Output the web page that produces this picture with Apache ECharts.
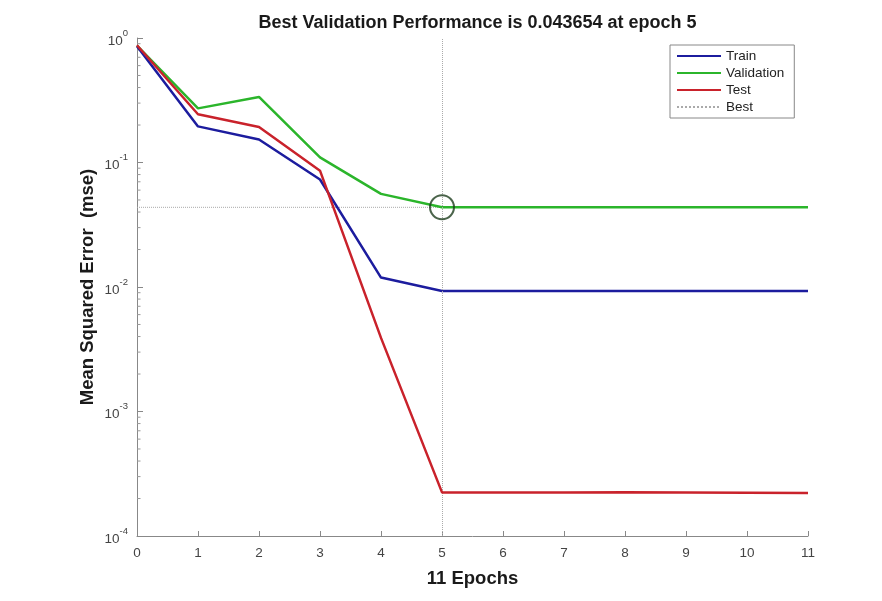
<!DOCTYPE html>
<html><head><meta charset="utf-8">
<script src="https://cdn.jsdelivr.net/npm/echarts@6/dist/echarts.min.js"></script>
<style>html,body{margin:0;padding:0;background:#fff}#c{width:882px;height:601px}</style>
</head><body><div id="c"></div>
<script>
const epochs = [0,1,2,3,4,5,6,7,8,9,10,11];
const train = [0.86,0.195,0.153,0.073,0.0119,0.0093,0.0093,0.0093,0.0093,0.0093,0.0093,0.0093];
const validation = [0.87,0.272,0.336,0.11,0.056,0.043654,0.043654,0.043654,0.043654,0.043654,0.043654,0.043654];
const test = [0.875,0.244,0.193,0.086,0.0039,0.000224,0.000224,0.000224,0.000225,0.000224,0.000223,0.000222];
const bestEpoch = 5;
const bestValue = 0.043654;
const minorTickValues = [];
[-4,-3,-2,-1].forEach(k => { [2,3,4,5,6,7,8,9].forEach(m => minorTickValues.push(m*Math.pow(10,k))); });

const font = 'Liberation Sans, Arial, Helvetica, sans-serif';
const chart = echarts.init(document.getElementById('c'), null, {renderer:'canvas'});
const pair = arr => epochs.map((e,i)=>[e,arr[i]]);

chart.setOption({
  backgroundColor:'#fff',
  animation:false,
  title:{
    text:'Best Validation Performance is 0.043654 at epoch 5',
    left:472.5, textAlign:'center', top:9,
    textStyle:{fontFamily:font, fontSize:18, fontWeight:'bold', color:'#1a1a1a'}
  },
  legend:{
    orient:'vertical', left:670, top:45,
    data:['Train','Validation','Test','Best'],
    itemWidth:44, itemHeight:12, itemGap:3,
    padding:[4,10,4,6],
    borderColor:'#888', borderWidth:1, backgroundColor:'#fff',
    itemStyle:{opacity:0},
    textStyle:{fontFamily:font, fontSize:13.5, color:'#222'}
  },
  grid:{left:137, right:74, top:38, bottom:65},
  xAxis:{
    type:'value', min:0, max:11, interval:1,
    name:'11 Epochs', nameLocation:'middle', nameGap:33,
    nameTextStyle:{fontFamily:font, fontSize:18.5, fontWeight:'bold', color:'#1a1a1a'},
    axisLine:{lineStyle:{color:'#888', width:1}},
    axisTick:{inside:true, length:5, lineStyle:{color:'#888'}},
    axisLabel:{fontFamily:font, fontSize:13.5, color:'#444', margin:10},
    splitLine:{show:false}
  },
  yAxis:{
    type:'log', logBase:10, min:1e-4, max:1,
    name:'Mean Squared Error  (mse)', nameLocation:'middle', nameGap:40, nameMoveOverlap:false,
    nameTextStyle:{fontFamily:font, fontSize:18.5, fontWeight:'bold', color:'#1a1a1a'},
    axisLine:{show:true, lineStyle:{color:'#888', width:1}},
    axisTick:{inside:true, length:6, lineStyle:{color:'#888'}},
    axisLabel:{
      margin:9,
      formatter: v => { const e = Math.round(Math.log10(v)); return '{b|10}{s|' + e + '}'; },
      rich:{
        b:{fontFamily:font, fontSize:13.5, color:'#444', lineHeight:20, verticalAlign:'bottom'},
        s:{fontFamily:font, fontSize:9.5, color:'#444', lineHeight:20, verticalAlign:'top'}
      }
    },
    splitLine:{show:false}
  },
  series:[
    {name:'Train', type:'line', data:pair(train), symbol:'none', lineStyle:{color:'#1c1c9e', width:2.5}, itemStyle:{color:'#1c1c9e'}, z:4},
    {name:'Validation', type:'line', data:pair(validation), symbol:'none', lineStyle:{color:'#2bb52b', width:2.5}, itemStyle:{color:'#2bb52b'}, z:3},
    {name:'Test', type:'line', data:pair(test), symbol:'none', lineStyle:{color:'#c9222b', width:2.5}, itemStyle:{color:'#c9222b'}, z:5},
    {name:'Best', type:'line', data:[[0,bestValue],[bestEpoch,bestValue]], symbol:'none',
      lineStyle:{color:'#aaa', width:1, type:'dotted'}, itemStyle:{color:'#aaa'}, z:2,
      markLine:{silent:true, symbol:'none', label:{show:false},
        lineStyle:{color:'#aaa', width:1, type:'dotted'},
        data:[{xAxis:bestEpoch}]}
    },
    {name:'bestCircle', type:'scatter', data:[[bestEpoch,bestValue]], symbol:'circle', symbolSize:24,
      itemStyle:{color:'rgba(0,0,0,0)', borderColor:'#1e3d1e', borderWidth:2}, z:6, silent:true},
    {name:'minorTicks', type:'custom', silent:true, z:1,
      data:minorTickValues.map(v=>[0,v]),
      renderItem:(params, api) => {
        const p = api.coord([0, api.value(1)]);
        return {type:'line', shape:{x1:p[0], y1:p[1], x2:p[0]+3.5, y2:p[1]}, style:{stroke:'#999', lineWidth:1}};
      }
    }
  ]
});
</script></body></html>
